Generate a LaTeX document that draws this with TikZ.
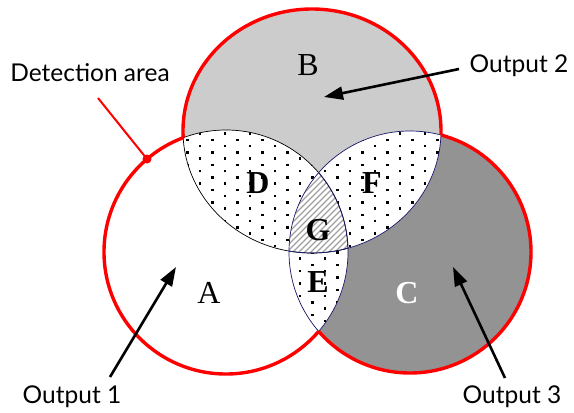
\documentclass[tikz,border=0pt]{standalone}
\usepackage{fontspec}
\setmainfont{Liberation Serif}
\newfontfamily\calloutfont{Lato}
\usetikzlibrary{arrows.meta, positioning}
\definecolor{regionB}{RGB}{204,204,204}
\definecolor{regionC}{RGB}{147,147,147}
\definecolor{edgeblue}{RGB}{25,25,110}
\definecolor{hatchgray}{RGB}{160,160,160}
% staggered square dots for the pairwise overlaps
\newcommand{\dotgrid}{%
    \foreach \i in {0,...,21} {
        \foreach \j in {0,...,17} {
            \pgfmathsetmacro\dy{mod(\i,2)*6.25}
            \fill (186+\i*12.5, 126+\j*12.5+\dy) rectangle ++(2.7,2.7);
        }
    }}

\begin{document}
\begin{tikzpicture}[x=1pt, y=-1pt,
    zone/.style={font=\fontsize{32}{34}\selectfont},
    overlap/.style={font=\fontsize{32}{34}\selectfont\bfseries},
    callout/.style={font=\calloutfont\fontsize{24.5}{28}\selectfont},
    pointer/.style={-{Triangle[length=19pt,width=13pt]}, line width=2.6pt},
    rim/.style={draw=red, line width=3.4pt},
    seam/.style={line width=0.7pt},
    hatch/.style={draw=hatchgray, line width=1.3pt},
]
    \useasboundingbox (0,0) rectangle (574,413);
    % Circle centres
    \coordinate (cA) at (226,252);
    \coordinate (cB) at (312,131);
    \coordinate (cC) at (410,252);
    \def\rA{122pt} \def\rC{121pt}
    \tikzset{shapeB/.style={x radius=129pt, y radius=122pt}}
    % Region fills
    \fill[regionB] (cB) circle[shapeB];
    \fill[regionC] (cC) circle[radius=\rC];
    \begin{scope}
        \clip (cA) circle[radius=\rA];
        \fill[white] (cB) circle[shapeB] (cC) circle[radius=\rC];
        \begin{scope}
            \clip (cB) circle[shapeB] (cC) circle[radius=\rC];
            \dotgrid
        \end{scope}
    \end{scope}
    \begin{scope}
        \clip (cB) circle[shapeB];
        \clip (cC) circle[radius=\rC];
        \fill[white] (cC) circle[radius=\rC];
        \dotgrid
    \end{scope}
    \begin{scope}
        \clip (cA) circle[radius=\rA];
        \clip (cB) circle[shapeB];
        \clip (cC) circle[radius=\rC];
        \fill[white] (cC) circle[radius=\rC];
        \foreach \k in {0,...,24} {
            \draw[hatch] (200+\k*6, 285) -- ++(110,-110);
        }
    \end{scope}
    % Inner seams
    \begin{scope}
        \clip (cB) circle[shapeB];
        \draw[seam] (cA) circle[radius=\rA];
    \end{scope}
    \begin{scope}
        \clip (cA) circle[radius=\rA];
        \draw[seam] (cB) circle[shapeB];
    \end{scope}
    \begin{scope}
        \clip (cC) circle[radius=\rC];
        \draw[seam, edgeblue] (cA) circle[radius=\rA] (cB) circle[shapeB];
    \end{scope}
    \begin{scope}
        \clip (cA) circle[radius=\rA] (cB) circle[shapeB];
        \draw[seam, edgeblue] (cC) circle[radius=\rC];
    \end{scope}
    % Outer rim of the detection area
    \begin{scope}[even odd rule]
        \clip (-20,-20) rectangle (600,440) (cB) circle[shapeB];
        \clip (-20,-20) rectangle (600,440) (cC) circle[radius=\rC];
        \draw[rim] (cA) circle[radius=\rA];
    \end{scope}
    \begin{scope}[even odd rule]
        \clip (-20,-20) rectangle (600,440) (cA) circle[radius=\rA];
        \clip (-20,-20) rectangle (600,440) (cC) circle[radius=\rC];
        \draw[rim] (cB) circle[shapeB];
    \end{scope}
    \begin{scope}[even odd rule]
        \clip (-20,-20) rectangle (600,440) (cA) circle[radius=\rA];
        \clip (-20,-20) rectangle (600,440) (cB) circle[shapeB];
        \draw[rim] (cC) circle[radius=\rC];
    \end{scope}
    % Region letters
    \node[zone] (lblA) at (209,293) {A};
    \node[zone] (lblB) at (308,65) {B};
    \node[overlap, text=white] (lblC) at (407,293) {C};
    \node[overlap] (lblD) at (258,183) {D};
    \node[overlap] (lblE) at (318,282) {E};
    \node[overlap] (lblF) at (372,183) {F};
    \node[overlap] (lblG) at (318,230) {G};
    % Callouts
    \node[callout] (det) at (90,73) {Detection area};
    \node[callout] (out1) at (72,397) {Output 1};
    \node[callout] (out2) at (519,66) {Output 2};
    \node[callout] (out3) at (512,397) {Output 3};
    \coordinate (detfoot) at (98,98);
    \coordinate (detdot) at (147,159);
    \coordinate (tail1) at (110,377);
    \coordinate (tip1) at (176,267);
    \coordinate (tail2) at (459,69);
    \coordinate (tip2) at (324,97);
    \coordinate (tail3) at (505,378);
    \coordinate (tip3) at (453,267);
    \draw[red, line width=2pt] (detfoot) -- (detdot);
    \fill[red] (detdot) circle[radius=4.5pt];
    \draw[pointer] (tail1) -- (tip1);
    \draw[pointer] (tail2) -- (tip2);
    \draw[pointer] (tail3) -- (tip3);
\end{tikzpicture}
\end{document}
